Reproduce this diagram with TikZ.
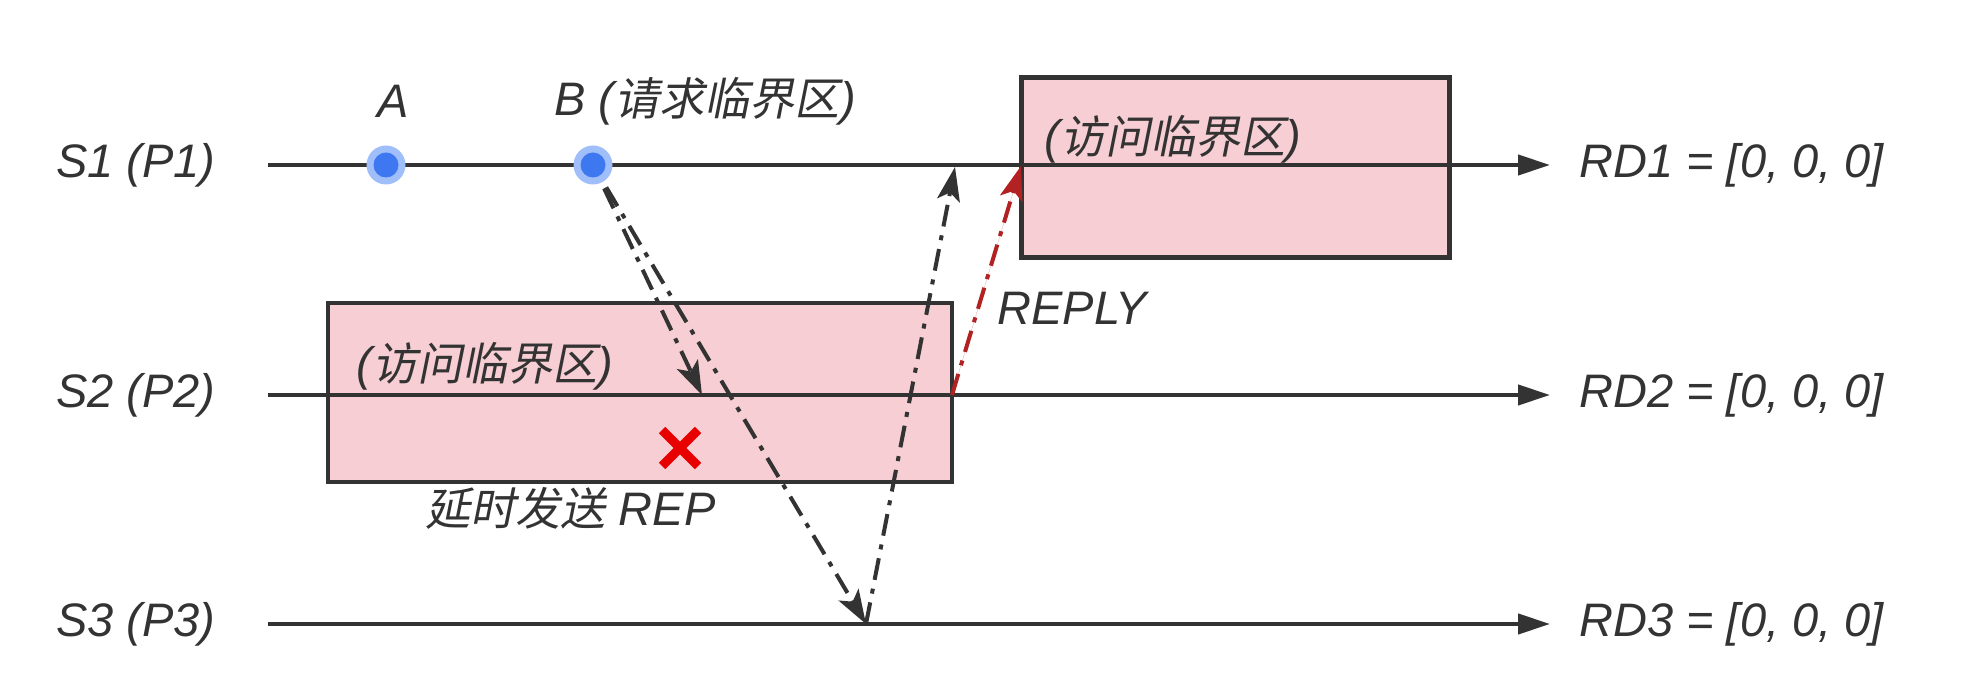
\documentclass[tikz,border=0pt]{standalone}
\usepackage{fontspec}
\setmainfont{Liberation Sans}
\newfontfamily\cjk[FakeSlant=0.2,Scale=0.96]{Noto Sans CJK SC}
\usetikzlibrary{arrows.meta}
\definecolor{ink}{HTML}{333333}
\definecolor{boxfill}{HTML}{F6CED3}
\definecolor{dotout}{RGB}{160,190,250}
\definecolor{dotin}{RGB}{62,120,240}
\definecolor{replyred}{RGB}{178,34,34}
\definecolor{xred}{RGB}{232,0,0}
\begin{document}
\begin{tikzpicture}[x=0.5pt,y=-0.5pt,
  lbl/.style={font=\fontsize{23.5pt}{28pt}\selectfont\itshape, text=ink, inner sep=0pt},
  axisline/.style={draw=ink, line width=2.2pt, -{Triangle[length=16pt,width=10pt]}},
  msg/.style={draw=ink, line width=2pt, dash pattern=on 11pt off 4.5pt on 2.5pt off 4.5pt,
    -{Stealth[length=17pt,width=11.5pt,inset=4pt]}},
  replymsg/.style={msg, draw=replyred, fill=replyred},
  csbox/.style={draw=ink, fill=boxfill, line width=2.2pt, rectangle, inner sep=0pt},
  dotouter/.style={circle, fill=dotout, minimum size=19.5pt, inner sep=0pt},
  dotinner/.style={circle, fill=dotin, minimum size=12.5pt, inner sep=0pt},
]
\useasboundingbox (0,0) rectangle (1988,678);

% critical-section boxes
\node[csbox, minimum width=312pt, minimum height=89.5pt] (box2) at (640,392.5) {};
\node[csbox, minimum width=214pt, minimum height=90pt] (box1) at (1235.5,167.5) {};

% coordinates
\coordinate (s1a) at (268,165);
\coordinate (s1b) at (1550,165);
\coordinate (s2a) at (268,395);
\coordinate (s2b) at (1550,395);
\coordinate (s3a) at (268,624);
\coordinate (s3b) at (1550,624);
\coordinate (s2hit) at (702,395);
\coordinate (s3hit) at (866,624);
\coordinate (s1hit) at (955,167);
\coordinate (r0) at (952,395);
\coordinate (r1) at (1021,166);

% process lines
\draw[axisline] (s1a) -- (s1b);
\draw[axisline] (s2a) -- (s2b);
\draw[axisline] (s3a) -- (s3b);

% dots
\node[dotouter] (adot) at (386,165) {};
\node[dotinner] (adotin) at (386,165) {};
\node[dotouter] (bdot) at (593,165) {};
\node[dotinner] (bdotin) at (593,165) {};

% messages
\draw[msg, shorten <=3pt] (bdot) -- (s2hit);
\draw[msg, shorten <=3pt] (bdot) -- (s3hit);
\draw[msg] (s3hit) -- (s1hit);
\draw[replymsg] (r0) -- (r1);

% red cross
\draw[xred, line width=4.5pt] (662,430) -- (698,466) (698,430) -- (662,466);

% labels
\node[lbl] (l1) at (136,165) {S1 (P1)};
\node[lbl] (l2) at (136,395) {S2 (P2)};
\node[lbl] (l3) at (136,624) {S3 (P3)};
\node[lbl, anchor=west] (rd1) at (1579,165) {RD1 = [0, 0, 0]};
\node[lbl, anchor=west] (rd2) at (1579,395) {RD2 = [0, 0, 0]};
\node[lbl, anchor=west] (rd3) at (1579,624) {RD3 = [0, 0, 0]};
\node[lbl] (la) at (393,101) {A};
\node[lbl, anchor=west] (lb) at (554,101) {B ({\cjk 请求临界区})};
\node[lbl, anchor=west] (lreply) at (997,308) {REPLY};
\node[lbl, anchor=west] (ldelay) at (425,508) {{\cjk 延时发送} REP};
\node[lbl, anchor=west] (t2) at (356,366) {({\cjk 访问临界区})};
\node[lbl, anchor=west] (t1) at (1044,139) {({\cjk 访问临界区})};
\end{tikzpicture}
\end{document}
